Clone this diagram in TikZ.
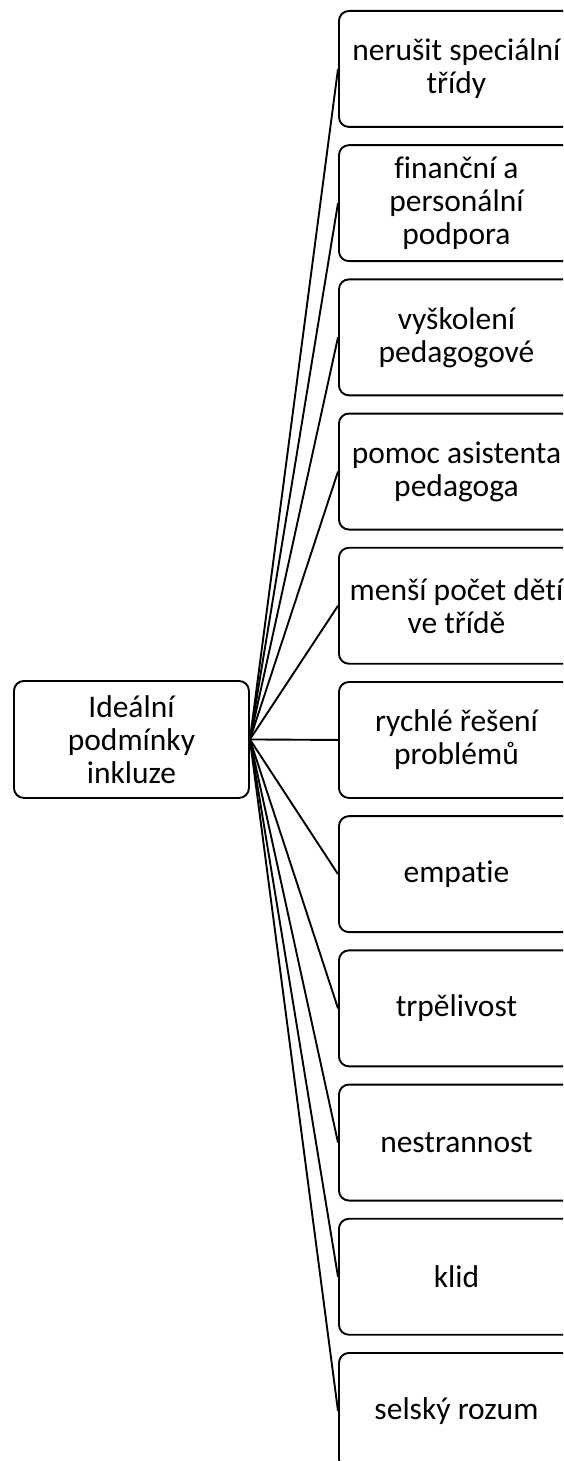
\documentclass[tikz,border=0pt]{standalone}
\usepackage{fontspec}
\setmainfont{Carlito}[Ligatures=NoCommon]
\tikzset{
  box/.style={draw=black, line width=1.9pt, rounded corners=10pt, minimum width=235pt, minimum height=116pt, align=center, inner sep=0pt, font=\fontsize{31.5}{33}\selectfont, anchor=north west},
  link/.style={draw=black, line width=1.9pt}
}
\begin{document}
\begin{tikzpicture}[x=1pt,y=1pt]
\useasboundingbox (0,0) rectangle (563,-1461);
\clip (0,0) rectangle (563,-1461);
\node[box, minimum height=117pt] (root) at (13,-680) {Ideální\\podmínky\\inkluze};
\node[box] (b0) at (338,-10) {nerušit speciální\\třídy};
\node[box] (b1) at (338,-144.2) {finanční a\\personální\\podpora};
\node[box] (b2) at (338,-278.4) {vyškolení\\pedagogové};
\node[box] (b3) at (338,-412.6) {pomoc asistenta\\pedagoga};
\node[box] (b4) at (338,-546.8) {menší počet dětí\\ve třídě};
\node[box] (b5) at (338,-681) {rychlé řešení\\problémů};
\node[box] (b6) at (338,-815.2) {empatie};
\node[box] (b7) at (338,-949.4) {trpělivost};
\node[box] (b8) at (338,-1083.6) {nestrannost};
\node[box] (b9) at (338,-1217.8) {klid};
\node[box] (b10) at (338,-1352) {selský rozum};
\foreach \i in {0,...,10} {\draw[link] (root.east) -- (b\i.west);}
\end{tikzpicture}
\end{document}
